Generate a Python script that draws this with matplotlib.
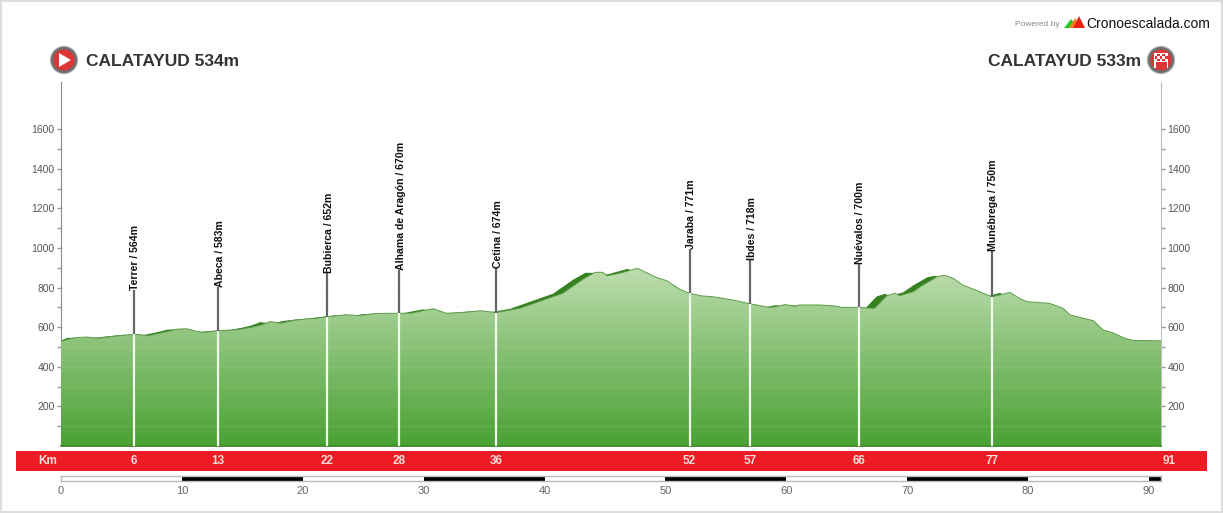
import matplotlib
matplotlib.use('Agg')
import matplotlib.pyplot as plt
import numpy as np
from matplotlib.colors import LinearSegmentedColormap
from matplotlib.patches import Circle, Polygon, Rectangle

plt.rcParams['font.family'] = ['Liberation Sans', 'DejaVu Sans']

# profile
km = [0, 0.4, 1.3, 2.2, 3.1, 3.8, 4.6, 6, 6.6, 7.1, 7.9, 8.8, 9.6, 10.4, 11.2, 11.8, 13, 14, 14.8, 15.8,
      16.6, 17.3, 17.7, 18.2, 19.2, 20.3, 21, 22, 23.6, 24.7, 25.8, 27, 28, 29, 30, 30.8, 31.9, 33.6, 34.7, 36,
      38, 39.9, 41.5, 43.2, 44.2, 44.8, 45.2, 46.2, 47.2, 47.7, 49.3, 50.1, 51.2, 52, 53, 53.9, 55.6, 57, 58.6,
      59.2, 59.9, 60.7, 61.1, 62.8, 64, 64.6, 66, 67.3, 68.3, 69, 69.4, 70.5, 71.3, 72.5, 73.1, 73.8, 74.6, 76, 77,
      77.7, 78.5, 79.3, 79.9, 81.8, 82.9, 83.5, 85.4, 86.2, 87, 88, 88.7, 91]
elevation = [528, 536, 548, 550, 544, 550, 556, 564, 562, 556, 566, 578, 590, 592, 579, 574, 583, 585, 589, 600,
             612, 628, 625, 620, 634, 642, 644, 652, 663, 658, 668, 670, 670, 671, 684, 693, 670, 676, 683, 674,
             696, 737, 771, 843, 877, 877, 860, 872, 889, 897, 850, 835, 791, 771, 758, 754, 737, 718, 700,
             704, 714, 706, 712, 712, 707, 700, 700, 695, 758, 771, 759, 779, 813, 855, 862, 847, 813, 779, 754,
             763, 776, 745, 729, 720, 695, 661, 633, 586, 572, 544, 533, 531]
back_shift = 0.85

# places
place_km = [6, 13, 22, 28, 36, 52, 57, 66, 77]
place_elev = [564, 583, 652, 670, 674, 771, 718, 700, 750]
place_top = [788, 803, 874, 889, 899, 995, 939, 919, 985]
place_names = ['Terrer / 564m', 'Abeca / 583m', 'Bubierca / 652m', 'Alhama de Aragón / 670m', 'Cetina / 674m',
               'Jaraba / 771m', 'Ibdes / 718m', 'Nuévalos / 700m', 'Munébrega / 750m']

band_km = [6, 13, 22, 28, 36, 52, 57, 66, 77]
major_ticks = [200, 400, 600, 800, 1000, 1200, 1400, 1600]
minor_ticks = [100, 300, 500, 700, 900, 1100, 1300, 1500]
scale_ticks = [0, 10, 20, 30, 40, 50, 60, 70, 80, 90]

W, H = 1223, 513
fig = plt.figure(figsize=(W / 100, H / 100), dpi=100, facecolor='white')


def axes_px(x0, y0, x1, y1):
    return fig.add_axes([x0 / W, 1 - y1 / H, (x1 - x0) / W, (y1 - y0) / H])


km_per_px = 91 / 1100

# main chart
ax = axes_px(61, 82, 1161, 446)
ax.set_facecolor('white')
for s in ['top', 'bottom']:
    ax.spines[s].set_visible(False)
ax.spines['left'].set_color('#8a8a8a')
ax.spines['right'].set_color('#bdbdbd')
ax.set_yticks(major_ticks)
ax.set_yticks(minor_ticks, minor=True)
ax.tick_params(axis='y', which='major', length=3, width=1, color='#999999', labelcolor='#555555',
               labelsize=7.5, pad=1.5, left=True, right=True, labelleft=True, labelright=True)
ax.tick_params(axis='y', which='minor', length=3, width=1, color='#999999', left=True, right=True)
ax.set_xticks([])
ax.hlines(major_ticks + minor_ticks, 0, 91, color='#fbfbfb', lw=1, zorder=1)

# dark band first, the front face goes over it
km_arr = np.array(km)
ax.fill_between(np.clip(km_arr - back_shift, 0, None), elevation, 0, color='#35801f', lw=0, zorder=2)

grad_cmap = LinearSegmentedColormap.from_list('profile', [(0, '#4aa133'), (530 / 900, '#8dc47b'), (1, '#bedeaf')])
img = ax.imshow(np.linspace(1, 0, 256).reshape(-1, 1), cmap=grad_cmap, extent=(0, 91, 0, 900), aspect='auto', zorder=3)
front = Polygon(list(zip(km, elevation)) + [(91, 0), (0, 0)], closed=True, transform=ax.transData, fc='none', ec='none')
ax.add_patch(front)
img.set_clip_path(front)
ax.set_xlim(0, 91)
ax.set_ylim(0, 1838)
ax.plot(km, elevation, color='#5c9c4a', lw=0.7, zorder=4)
ax.plot([0, 91], [0, 0], color='#3f8a2a', lw=1.2, zorder=4, clip_on=False)
ax.hlines([t for t in major_ticks + minor_ticks if t < 530], 0, 91, color='white', alpha=0.08, lw=1, zorder=4)

# places: pole above the profile, white line below it
for x, e, pole_top, name in zip(place_km, place_elev, place_top, place_names):
    ax.plot([x, x], [e, pole_top], color='#666666', lw=1.6, zorder=5, solid_capstyle='butt')
    ax.plot([x, x], [0, e], color='#f2f8ee', lw=1.6, zorder=5, solid_capstyle='butt')
    ax.annotate(name, (x, pole_top), xytext=(1.2, 0), textcoords='offset points', rotation=90,
                rotation_mode='anchor', ha='left', va='center', fontsize=7.6, fontweight='bold',
                color='#111111', zorder=6)

# red km band
band = axes_px(16, 451, 1207, 471)
band.set_xlim(-45 * km_per_px, 1146 * km_per_px)
band.set_ylim(0, 1)
band.set_facecolor('#ed1c24')
band.set_xticks([])
band.set_yticks([])
for s in band.spines.values():
    s.set_visible(False)
band.text(-13 * km_per_px, 0.5, 'Km', color='#fbdada', fontsize=8.5, fontweight='bold', ha='center', va='center')
for x in band_km:
    band.text(x, 0.5, str(x), color='#fbdada', fontsize=8.5, fontweight='bold', ha='center', va='center')
band.text(91.7, 0.5, '91', color='#fbdada', fontsize=8.5, fontweight='bold', ha='center', va='center')

# distance scale
scale = axes_px(61, 476, 1161, 481)
scale.set_xlim(0, 91)
scale.set_ylim(0, 1)
scale.set_facecolor('white')
for s in scale.spines.values():
    s.set_color('#bbbbbb')
    s.set_linewidth(1)
scale.set_yticks([])
scale.set_xticks(scale_ticks)
scale.tick_params(axis='x', length=0, pad=3.5, labelsize=8, labelcolor='#666666')
for start in scale_ticks[1::2]:
    scale.bar(start, 1, width=min(10, 91 - start), align='edge', color='black', lw=0)

# overlay in pixels for the page furniture
top = fig.add_axes([0, 0, 1, 1], zorder=10)
top.set_xlim(0, W)
top.set_ylim(H, 0)
top.axis('off')
top.patch.set_alpha(0)
top.add_patch(Rectangle((0.5, 0.5), W - 1.5, H - 1.5, fc='none', ec='#dddddd', lw=1.5))

for cx in [64, 1161]:
    top.add_patch(Circle((cx, 60), 13.5, fc='#6e6e6e', ec='#aaaaaa', lw=0.8))
    top.add_patch(Circle((cx, 60), 10.5, fc='#e03535', ec='none'))
top.add_patch(Polygon([(59, 53), (59, 67), (71, 60)], closed=True, fc='white', ec='none'))
top.add_patch(Rectangle((1154, 53), 14, 9, fc='white', ec='none'))
top.add_patch(Rectangle((1154, 62), 1.5, 6, fc='white', ec='none'))
top.add_patch(Rectangle((1166.5, 62), 1.5, 6, fc='white', ec='none'))
for i in range(5):
    for j in range(3):
        if (i + j) % 2:
            top.add_patch(Rectangle((1154.5 + i * 2.6, 53.5 + j * 2.6), 2.6, 2.6, fc='#e03535', ec='none'))

top.text(86, 61, 'CALATAYUD 534m', fontsize=12.5, fontweight='bold', color='#333333', ha='left', va='center')
top.text(1141, 61, 'CALATAYUD 533m', fontsize=12.5, fontweight='bold', color='#333333', ha='right', va='center')
top.text(1015, 24, 'Powered by', fontsize=6, color='#888888', ha='left', va='center')
top.text(1086, 24, 'Cronoescalada.com', fontsize=10, color='#111111', ha='left', va='center')
top.add_patch(Polygon([(1064, 28), (1071, 19), (1078, 28)], closed=True, fc='#22cc22', ec='none'))
top.add_patch(Polygon([(1069, 28), (1075, 18), (1081, 28)], closed=True, fc='#f08020', ec='none'))
top.add_patch(Polygon([(1073, 28), (1079, 16), (1085, 28)], closed=True, fc='#ee2211', ec='none'))

fig.savefig('out.png', dpi=100)
